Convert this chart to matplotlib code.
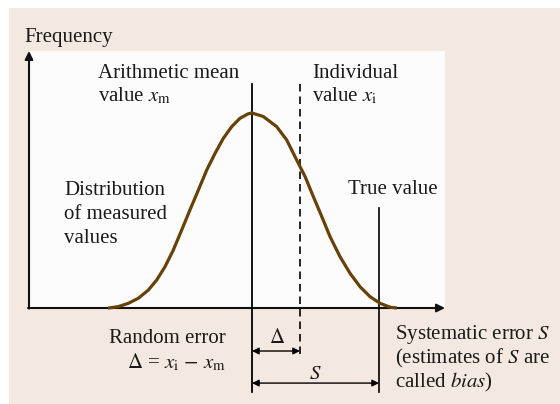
import numpy as np
import matplotlib.pyplot as plt
from matplotlib.patches import Rectangle

plt.rcParams['font.family'] = ['Liberation Serif', 'DejaVu Serif']
plt.rcParams['mathtext.fontset'] = 'stix'

# distribution curve (x: deviation from mean, y: relative frequency)
curve_x = [-9.93, -9.79, -9.22, -8.53, -7.84, -7.15, -6.57, -6.00, -5.43, -4.85, -4.28,
           -3.70, -3.12, -2.55, -1.98, -1.40, -0.83, -0.26, 0.0,
           0.78, 1.70, 2.39, 3.08, 3.66, 4.23, 4.81, 5.38, 6.07, 6.76, 7.45, 8.14,
           8.83, 9.52, 10.0]
curve_y = [0.0, 0.001, 0.007, 0.024, 0.050, 0.092, 0.144, 0.212, 0.297, 0.400, 0.503,
           0.605, 0.708, 0.793, 0.870, 0.930, 0.973, 0.996, 1.0,
           0.982, 0.930, 0.862, 0.759, 0.674, 0.571, 0.469, 0.366, 0.263, 0.178, 0.109,
           0.058, 0.024, 0.004, 0.0]
x_mean = 0.0
x_indiv = 3.31
x_true = 8.76

W, H = 560, 404
fig = plt.figure(figsize=(W / 100, H / 100), dpi=100)
fig.patch.set_facecolor('white')
ax = fig.add_axes([0, 0, 1, 1])
ax.set_xlim(-17.38, 21.24)
ax.set_ylim(-0.4923, 1.5795)
ax.axis('off')

beige = '#F3E9E0'
ax.add_patch(Rectangle((-16.76, -0.5), 40, 2.038, facecolor=beige, edgecolor='none', zorder=0))
ax.add_patch(Rectangle((-15.38, 0), 28.69, 1.318, facecolor='#FCFCFC', edgecolor='none', zorder=1))

# axes arrows
ax.annotate('', xy=(-15.38, 1.318), xytext=(-15.38, -0.003),
            arrowprops=dict(arrowstyle='-|>', color='#111111', lw=1.5, mutation_scale=12,
                            shrinkA=0, shrinkB=0), zorder=3)
ax.annotate('', xy=(13.31, 0), xytext=(-15.45, 0),
            arrowprops=dict(arrowstyle='-|>', color='#111111', lw=1.5, mutation_scale=12,
                            shrinkA=0, shrinkB=0), zorder=3)

# vertical markers
ax.plot([x_mean, x_mean], [1.149, -0.431], color='black', lw=1.3, zorder=4)
ax.plot([x_indiv, x_indiv], [1.149, -0.256], color='black', lw=1.2,
        linestyle=(0, (4.5, 3)), zorder=4)
ax.plot([x_true, x_true], [0.513, -0.431], color='black', lw=1.2, zorder=4)

ax.plot(curve_x, curve_y, color='#664108', lw=2.3, solid_joinstyle='round',
        solid_capstyle='butt', zorder=5)

# error arrows
for x1, yy in [(x_indiv, -0.2205), (x_true, -0.385)]:
    ax.annotate('', xy=(x1, yy), xytext=(x_mean, yy),
                arrowprops=dict(arrowstyle='<|-|>', color='black', lw=1.0, mutation_scale=10,
                                shrinkA=0, shrinkB=0), zorder=4)


def label(xp, yp, s, ha='left'):
    fig.text(xp / W, 1 - yp / H, s, fontsize=15, ha=ha, va='baseline', color='#1a1a1a')


label(24, 42, 'Frequency')
label(98, 78, 'Arithmetic mean')
label(98, 101, r'value $x_{\mathrm{m}}$')
label(312, 78, 'Individual')
label(312, 101, r'value $x_{\mathrm{i}}$')
label(64, 195, 'Distribution')
label(64, 219, 'of measured')
label(64, 243, 'values')
label(348, 194, 'True value')
label(226, 343, 'Random error', ha='right')
label(226, 368, r'$\Delta$ = $x_{\mathrm{i}}$ $-$ $x_{\mathrm{m}}$', ha='right')
label(277, 343, r'$\Delta$', ha='center')
label(315, 379, r'$S$', ha='center')
label(395, 339, r'Systematic error $S$')
label(395, 363, r'(estimates of $S$ are')
label(395, 387, r'called $\mathit{bias}$)')

fig.savefig('out.png', dpi=100, facecolor=fig.get_facecolor())
